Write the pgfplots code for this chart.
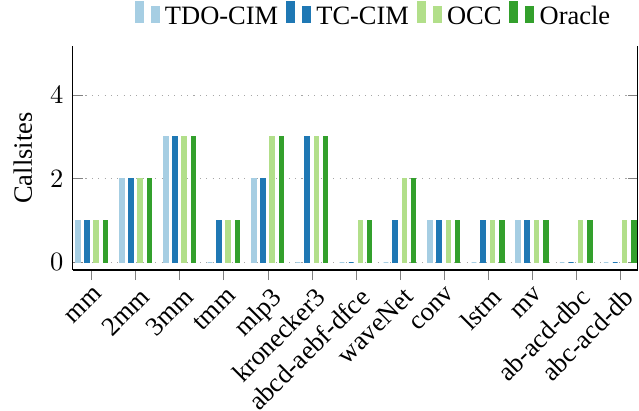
\documentclass[border=0pt]{standalone}
\usepackage{fontspec}
\setmainfont{Liberation Serif}
\usepackage{pgfplots}
\pgfplotsset{compat=1.18}
\definecolor{cA}{HTML}{A6CEE3}
\definecolor{cB}{HTML}{1F78B4}
\definecolor{cC}{HTML}{B2DF8A}
\definecolor{cD}{HTML}{33A02C}
\begin{document}
\begin{tikzpicture}
\begin{axis}[
  name=ax,
  scale only axis, width=213.5pt, height=84.5pt,
  ybar, bar width=1.77pt, ybar=1.7pt,
  xmin=-0.43, xmax=12.41, ymin=-0.19, ymax=5.17,
  xtick={0,...,12},
  xticklabels={mm,2mm,3mm,tmm,mlp3,kronecker3,abcd-aebf-dfce,waveNet,conv,lstm,mv,ab-acd-dbc,abc-acd-db},
  x tick label style={rotate=45, anchor=north east, xshift=2.5pt, yshift=1.2pt},
  ytick={0,2,4},
  ymajorgrids, grid style={dotted, gray!70},
  axis x line*=bottom, axis y line*=box,
  xtick align=outside,
  tick style={gray},
  major tick length=3.8pt,
  ylabel={Callsites},
  legend style={at={(0.535,1.03)}, anchor=south, legend columns=-1, draw=none, fill=none,
    /tikz/every even column/.append style={column sep=1pt}},
]
\addplot[fill=cA, draw=cA] coordinates {(0,1)(1,2)(2,3)(3,0)(4,2)(5,0)(6,0)(7,0)(8,1)(9,0)(10,1)(11,0)(12,0)};
\addplot[fill=cB, draw=cB] coordinates {(0,1)(1,2)(2,3)(3,1)(4,2)(5,3)(6,0)(7,1)(8,1)(9,1)(10,1)(11,0)(12,0)};
\addplot[fill=cC, draw=cC] coordinates {(0,1)(1,2)(2,3)(3,1)(4,3)(5,3)(6,1)(7,2)(8,1)(9,1)(10,1)(11,1)(12,1)};
\addplot[fill=cD, draw=cD] coordinates {(0,1)(1,2)(2,3)(3,1)(4,3)(5,3)(6,1)(7,2)(8,1)(9,1)(10,1)(11,1)(12,1)};
\legend{TDO-CIM,TC-CIM,OCC,Oracle}
\end{axis}
\pgfresetboundingbox
\path[use as bounding box] ([xshift=-27.5pt,yshift=-52.9pt]ax.south west) rectangle ([xshift=0.4pt,yshift=17.5pt]ax.north east);
\end{tikzpicture}
\end{document}
